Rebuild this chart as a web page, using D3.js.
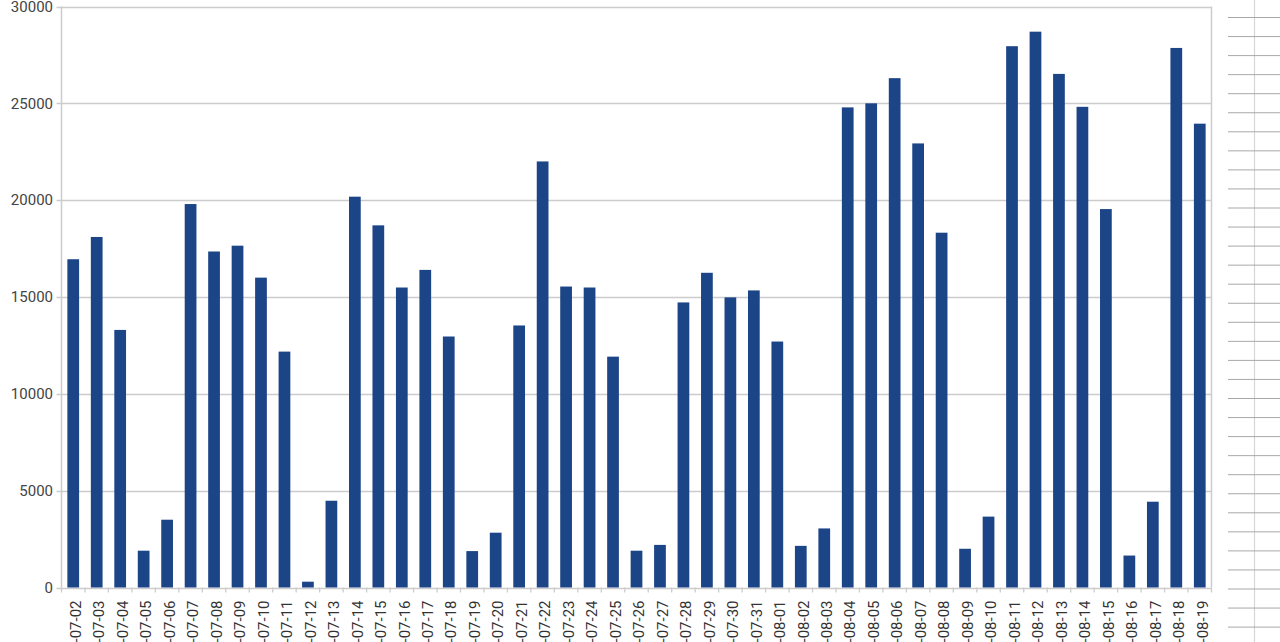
<!DOCTYPE html>
<html><head><meta charset="utf-8">
<script src="https://cdn.jsdelivr.net/npm/d3@7"></script>
<style>
html,body{margin:0;padding:0;background:#fff;overflow:hidden;}
svg{display:block;font-family:Roboto,"Noto Sans",Arial,sans-serif;}
</style></head>
<body>
<svg id="chart" width="1280" height="642"></svg>
<script>
const dates = ["2017-07-02","2017-07-03","2017-07-04","2017-07-05","2017-07-06","2017-07-07","2017-07-08","2017-07-09","2017-07-10","2017-07-11","2017-07-12","2017-07-13","2017-07-14","2017-07-15","2017-07-16","2017-07-17","2017-07-18","2017-07-19","2017-07-20","2017-07-21","2017-07-22","2017-07-23","2017-07-24","2017-07-25","2017-07-26","2017-07-27","2017-07-28","2017-07-29","2017-07-30","2017-07-31","2017-08-01","2017-08-02","2017-08-03","2017-08-04","2017-08-05","2017-08-06","2017-08-07","2017-08-08","2017-08-09","2017-08-10","2017-08-11","2017-08-12","2017-08-13","2017-08-14","2017-08-15","2017-08-16","2017-08-17","2017-08-18","2017-08-19"];
const values = [16950,18100,13300,1900,3500,19800,17350,17650,16000,12180,300,4480,20180,18700,15490,16400,12960,1880,2830,13530,22000,15540,15490,11920,1900,2200,14720,16250,14980,15340,12700,2150,3050,24790,25000,26300,22930,18320,2000,3660,27950,28700,26520,24820,19540,1650,4430,27860,23950];
const yTicks = [0,5000,10000,15000,20000,25000,30000];

(function(){
const svg = d3.select("#chart");
const pL = 61.5, pR = 1211.5, pT = 6.5, pB = 587.5;

const x = d3.scaleBand().domain(dates).range([pL, pR]).paddingInner(0.5).paddingOuter(0.25);
const xb = d3.scaleBand().domain(dates).range([pL, pR]);
const y = d3.scaleLinear().domain([0, 30000]).range([pB, pT]);

// right-side spreadsheet grid decoration
const deco = svg.append("g");
deco.append("line").attr("x1",1254.5).attr("x2",1254.5).attr("y1",0).attr("y2",642)
  .attr("stroke","#d6d6d6").attr("stroke-width",1.2);
deco.selectAll("line.h").data(d3.range(33)).join("line").attr("class","h")
  .attr("x1",1228).attr("x2",1280)
  .attr("y1",d=>17.5+d*19.05).attr("y2",d=>17.5+d*19.05)
  .attr("stroke","#a8a8a8").attr("stroke-width",1);

// gridlines
svg.append("g").selectAll("line").data(yTicks).join("line")
  .attr("x1",pL-5).attr("x2",pR)
  .attr("y1",d=>Math.round(y(d))+0.5).attr("y2",d=>Math.round(y(d))+0.5)
  .attr("stroke","#cccccc").attr("stroke-width",1.3);

// y labels
svg.append("g").selectAll("text").data(yTicks).join("text")
  .attr("x",53).attr("y",d=>y(d)).attr("dy","0.35em")
  .attr("text-anchor","end").attr("font-size",15).attr("fill","#444")
  .text(d=>d);

// frame
svg.append("line").attr("x1",pL).attr("x2",pL).attr("y1",pT).attr("y2",pB)
  .attr("stroke","#cccccc").attr("stroke-width",1.5);
svg.append("line").attr("x1",pR).attr("x2",pR).attr("y1",pT).attr("y2",pB)
  .attr("stroke","#cccccc").attr("stroke-width",1.5);

// bars
svg.append("g").selectAll("rect").data(dates).join("rect")
  .attr("x",d=>x(d)).attr("width",x.bandwidth())
  .attr("y",(d,i)=>y(values[i])).attr("height",(d,i)=>pB - y(values[i]))
  .attr("fill","#1c4587");

// x axis ticks
const tickPos = dates.map(d=>xb(d)).concat([pR]);
svg.append("g").selectAll("line").data(tickPos).join("line")
  .attr("x1",d=>d).attr("x2",d=>d).attr("y1",pB).attr("y2",pB+5)
  .attr("stroke","#cccccc").attr("stroke-width",1.3);

// x labels
svg.append("g").selectAll("text").data(dates).join("text")
  .attr("transform",d=>`translate(${xb(d)+xb.bandwidth()/2+2.5},${pB+13}) rotate(-90)`)
  .attr("text-anchor","end").attr("dy","0.35em")
  .attr("font-size",15).attr("fill","#333")
  .text(d=>d);
})();
</script>
</body></html>
